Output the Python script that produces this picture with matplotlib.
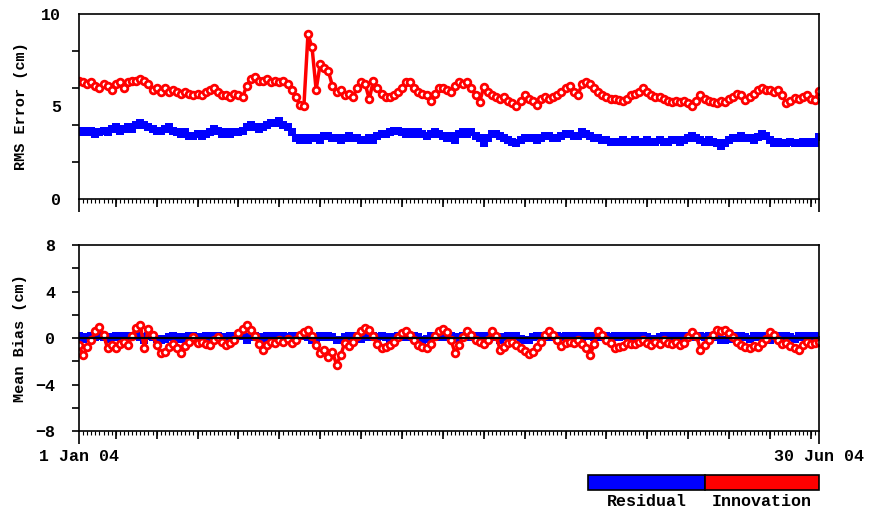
import matplotlib
matplotlib.use("Agg")
import matplotlib.pyplot as plt
from matplotlib.patches import Rectangle
import numpy as np

# daily values, 1 Jan 04 .. 30 Jun 04 (182 days)
rms_innovation = [
    6.4, 6.3, 6.2, 6.3, 6.1, 6.0, 6.2, 6.1, 5.9, 6.2, 6.3, 6.0, 6.3, 6.4, 6.4,
    6.5, 6.4, 6.2, 5.9, 6.0, 5.8, 6.0, 5.8, 5.9, 5.8, 5.7, 5.8, 5.7, 5.6, 5.7, 5.6,
    5.8, 5.9, 6.0, 5.8, 5.6, 5.6, 5.5, 5.7, 5.6, 5.5,
    6.1, 6.5, 6.6, 6.4, 6.4, 6.5, 6.3, 6.4, 6.3, 6.4,
    6.2, 5.9, 5.5, 5.1, 5.0, 8.9, 8.2, 5.9, 7.3, 7.1,
    6.9, 6.1, 5.8, 5.9, 5.6, 5.7, 5.5, 6.0, 6.3, 6.2,
    5.4, 6.4, 6.0, 5.7, 5.5, 5.5, 5.6, 5.8, 6.0, 6.3,
    6.3, 6.0, 5.8, 5.7, 5.6, 5.3, 5.7, 6.0, 6.0, 5.9,
    5.8, 6.1, 6.3, 6.2, 6.3, 6.0, 5.6, 5.25, 6.05, 5.8,
    5.6, 5.5, 5.4, 5.5, 5.3, 5.2, 5.0, 5.3, 5.6, 5.4,
    5.3, 5.1, 5.4, 5.5, 5.4, 5.5, 5.6, 5.8, 6.0, 6.1,
    5.8, 5.6, 6.2, 6.3, 6.2, 6.0, 5.8, 5.6, 5.5, 5.4,
    5.4, 5.35, 5.3, 5.4, 5.6, 5.7, 5.8, 6.0, 5.8, 5.6,
    5.5, 5.5, 5.4, 5.3, 5.25, 5.3, 5.25, 5.3, 5.2, 5.0,
    5.3, 5.6, 5.4, 5.3, 5.25, 5.2, 5.3, 5.25, 5.4, 5.5,
    5.7, 5.6, 5.35, 5.5, 5.7, 5.9, 6.0, 5.9, 5.9, 5.8,
    5.9, 5.6, 5.2, 5.3, 5.45, 5.4, 5.5, 5.6, 5.4, 5.35, 5.85,
]
rms_residual = [
    3.6, 3.7, 3.6, 3.7, 3.5, 3.6, 3.7, 3.6, 3.8, 3.9, 3.7, 3.8, 3.9, 3.8, 4.0,
    4.1, 4.0, 3.9, 3.8, 3.7, 3.7, 3.8, 3.9, 3.7, 3.6, 3.5, 3.6, 3.4, 3.4, 3.5, 3.4,
    3.5, 3.6, 3.8, 3.7, 3.5, 3.6, 3.5, 3.6, 3.6, 3.7,
    3.9, 4.0, 3.9, 3.8, 3.9, 4.0, 4.1, 4.1, 4.2, 4.0,
    3.9, 3.6, 3.3, 3.2, 3.3, 3.2, 3.3, 3.3, 3.2, 3.4,
    3.4, 3.3, 3.3, 3.2, 3.3, 3.4, 3.3, 3.3, 3.2, 3.2,
    3.3, 3.2, 3.4, 3.5, 3.5, 3.6, 3.7, 3.7, 3.6, 3.5,
    3.6, 3.5, 3.6, 3.5, 3.4, 3.5, 3.6, 3.5, 3.4, 3.3,
    3.4, 3.2, 3.5, 3.6, 3.5, 3.6, 3.4, 3.3, 3.0, 3.3,
    3.5, 3.5, 3.4, 3.3, 3.2, 3.1, 3.0, 3.2, 3.3, 3.3,
    3.3, 3.2, 3.3, 3.4, 3.4, 3.3, 3.3, 3.4, 3.5, 3.5,
    3.4, 3.4, 3.6, 3.5, 3.4, 3.3, 3.3, 3.2, 3.2, 3.1,
    3.1, 3.1, 3.2, 3.1, 3.1, 3.2, 3.1, 3.1, 3.2, 3.1,
    3.1, 3.2, 3.1, 3.1, 3.2, 3.2, 3.1, 3.2, 3.3, 3.4,
    3.3, 3.2, 3.1, 3.2, 3.1, 3.0, 2.85, 3.0, 3.2, 3.3,
    3.3, 3.4, 3.3, 3.3, 3.2, 3.35, 3.5, 3.4, 3.2, 3.0,
    3.1, 3.0, 3.0, 3.1, 3.0, 3.0, 3.1, 3.0, 3.1, 3.0, 3.35,
]
bias_innovation = [
    -0.6, -1.5, -0.8, -0.2, 0.6, 0.95, 0.3, -0.9, -0.6, -0.9,
    -0.5, -0.3, -0.6, 0.2, 0.9, 1.1, -0.9, 0.8, 0.3, -0.6,
    -1.3, -1.2, -0.8, -0.5, -0.9, -1.3, -0.7, -0.3, 0.1, -0.4,
    -0.3, -0.5, -0.6, -0.2, 0.1, -0.3, -0.6, -0.4, -0.2, 0.4,
    0.8, 1.1, 0.7, 0.2, -0.5, -1.0, -0.6, -0.3, -0.4, -0.2,
    -0.3, -0.1, -0.4, -0.2, 0.3, 0.5, 0.7, 0.2, -0.6, -1.3,
    -1.0, -1.6, -1.2, -2.3, -1.5, -0.4, -0.7, -0.3, 0.2, 0.6,
    0.85, 0.7, 0.2, -0.5, -0.9, -0.8, -0.6, -0.3, 0.1, 0.4,
    0.6, 0.3, -0.2, -0.6, -0.8, -0.9, -0.5, 0.2, 0.6, 0.8,
    0.5, -0.2, -1.3, -0.6, 0.1, 0.6, 0.3, -0.2, -0.3, -0.5,
    -0.2, 0.6, 0.2, -1.0, -0.8, -0.4, -0.3, -0.6, -0.9, -1.1,
    -1.4, -1.2, -0.8, -0.3, 0.3, 0.6, 0.3, -0.2, -0.7, -0.4,
    -0.3, -0.4, -0.2, -0.5, -0.9, -1.5, -0.5, 0.6, 0.3, -0.2,
    -0.4, -0.9, -0.8, -0.7, -0.4, -0.5, -0.5, -0.3, -0.2, -0.4,
    -0.6, -0.3, -0.5, -0.2, -0.4, -0.5, -0.3, -0.6, -0.4, 0.1,
    0.5, 0.2, -1.0, -0.6, -0.2, 0.3, 0.7, 0.6, 0.7, 0.4,
    0.1, -0.3, -0.6, -0.8, -0.9, -0.7, -0.8, -0.4, -0.1, 0.5,
    0.3, -0.2, -0.5, -0.4, -0.7, -0.9, -1.0, -0.6, -0.3, -0.5, -0.4, -0.3,
]
bias_residual = [
    0.2, -0.1, 0.1, 0.2, 0.1, 0.2, 0.1, -0.1, 0.1, 0.2,
    0.1, 0.2, 0.1, 0.2, 0.2, 0.1, -0.2, 0.2, 0.1, -0.1,
    -0.2, -0.1, 0.1, 0.2, 0.1, -0.1, 0.1, 0.2, 0.2, 0.1,
    0.1, 0.2, 0.1, 0.2, 0.2, 0.1, 0.1, 0.2, 0.1, 0.2,
    0.2, -0.2, 0.1, 0.2, 0.1, -0.1, 0.2, 0.1, 0.2, 0.1,
    0.2, 0.1, 0.2, 0.1, 0.2, 0.2, 0.1, -0.2, -0.2, 0.2,
    0.1, 0.2, 0.1, -0.2, -0.2, 0.1, 0.2, 0.1, 0.2, -0.1,
    0.2, 0.1, 0.2, 0.1, 0.2, 0.1, -0.1, 0.1, 0.2, 0.1,
    0.2, 0.1, 0.2, 0.1, -0.2, -0.1, 0.2, 0.2, 0.1, 0.2,
    0.1, 0.2, -0.1, 0.1, 0.2, 0.2, 0.1, 0.2, 0.1, 0.2,
    0.1, 0.2, 0.1, -0.2, 0.1, 0.2, 0.1, 0.2, -0.1, -0.2,
    -0.2, 0.1, 0.2, 0.2, 0.1, 0.2, 0.1, 0.2, 0.1, 0.2,
    0.2, 0.1, 0.2, 0.1, 0.2, 0.2, 0.1, 0.2, 0.1, 0.2,
    0.1, 0.2, 0.1, 0.2, 0.2, 0.1, 0.2, 0.1, 0.2, 0.1,
    -0.2, -0.1, 0.1, 0.2, 0.1, 0.2, -0.1, 0.2, 0.1, 0.2,
    0.2, 0.1, 0.2, 0.1, 0.2, 0.1, 0.2, -0.2, -0.2, -0.1,
    0.2, 0.1, 0.2, 0.1, -0.1, 0.2, 0.1, 0.2, -0.1, -0.2,
    0.1, 0.2, 0.1, 0.2, 0.1, -0.1, 0.2, 0.1, 0.2, -0.1, 0.2, -0.2,
]
end_labels = ["1 Jan 04", "30 Jun 04"]

days = np.arange(len(rms_innovation))
BLUE = "#0000ff"
RED = "#ff0000"
FONT = dict(family="Liberation Mono", weight="bold")

fig = plt.figure(figsize=(8.69, 5.13), dpi=100)
ax1 = fig.add_axes([0.0909, 0.6121, 0.8516, 0.3606])
ax2 = fig.add_axes([0.0909, 0.1598, 0.8516, 0.3626])


def style_x(ax, labels):
    ax.set_xlim(0, days[-1])
    ax.set_xticks([0, days[-1]])
    ax.set_xticklabels(labels if labels else ["", ""], fontsize=12, **FONT)
    ax.set_xticks(days, minor=True)
    ax.tick_params(axis="x", which="major", length=9, width=1.2, pad=4)
    ax.tick_params(axis="x", which="minor", length=3, width=0.8)
    sec = ax.secondary_xaxis("bottom")
    sec.set_xticks(np.arange(9, days[-1], 10))
    sec.set_xticklabels([])
    sec.tick_params(length=6, width=1.2)
    sec.spines["bottom"].set_visible(False)
    for s in ax.spines.values():
        s.set_linewidth(1.2)


def draw_pair(ax, blue_vals, red_vals):
    ax.plot(days, blue_vals, color=BLUE, lw=2.5, marker="s", ms=5.5, mew=0)
    ax.plot(days, red_vals, color=RED, lw=2.5, marker="o", ms=4.8,
            mfc="white", mec=RED, mew=2.0)


# top panel: RMS error
draw_pair(ax1, rms_residual, rms_innovation)
ax1.set_ylim(0, 10)
ax1.set_yticks([0, 5, 10])
ax1.set_yticklabels(["0", "5", "10"], fontsize=12, **FONT)
ax1.set_yticks([0, 2, 4, 6, 8, 10], minor=True)
ax1.tick_params(axis="y", which="major", length=0, pad=13)
ax1.tick_params(axis="y", which="minor", length=5, width=1.2)
ax1.set_ylabel("RMS Error (cm)", fontsize=11, labelpad=9, **FONT)
style_x(ax1, None)

# bottom panel: mean bias
draw_pair(ax2, bias_residual, bias_innovation)
ax2.axhline(0, color="black", lw=1.6, zorder=5)
ax2.set_ylim(-8, 8)
ax2.set_yticks([-8, -4, 0, 4, 8])
ax2.set_yticklabels(["\u22128", "\u22124", "0", "4", "8"], fontsize=12, **FONT)
ax2.set_yticks(np.arange(-8, 9, 2), minor=True)
ax2.tick_params(axis="y", which="major", length=5, width=1.2, pad=12)
ax2.tick_params(axis="y", which="minor", length=5, width=1.2)
ax2.set_ylabel("Mean Bias (cm)", fontsize=11, labelpad=6, **FONT)
style_x(ax2, end_labels)

# colour-bar style legend
fig.patches.append(Rectangle((0.6766, 0.0448), 0.1346, 0.0293, transform=fig.transFigure,
                             facecolor=BLUE, edgecolor="black", lw=1.2))
fig.patches.append(Rectangle((0.8112, 0.0448), 0.1312, 0.0293, transform=fig.transFigure,
                             facecolor=RED, edgecolor="black", lw=1.2))
fig.text(0.7439, 0.023, "Residual", ha="center", va="center", fontsize=12, **FONT)
fig.text(0.8768, 0.023, "Innovation", ha="center", va="center", fontsize=12, **FONT)

fig.savefig("out.png", dpi=100)
